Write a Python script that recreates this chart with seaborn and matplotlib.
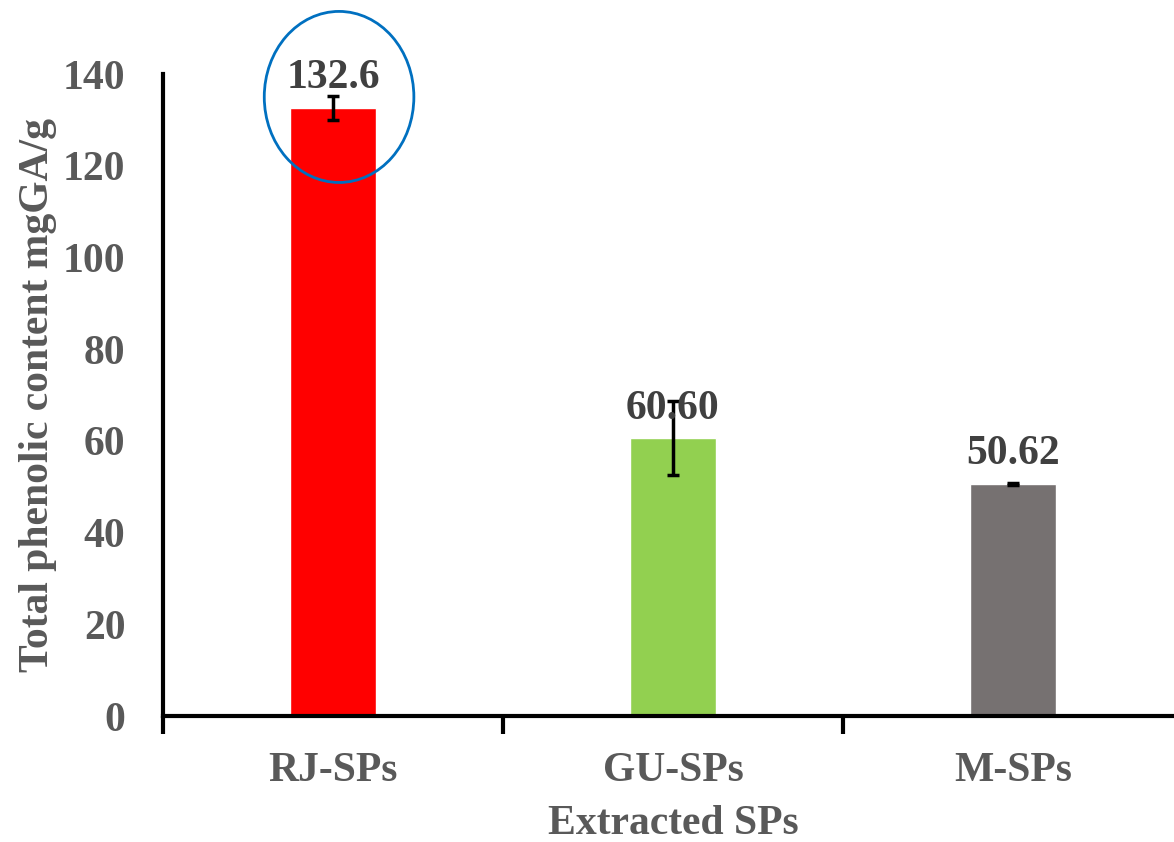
import pandas as pd
import seaborn as sns
from matplotlib import pyplot as plt
from matplotlib.patches import Ellipse

categories = ["RJ-SPs", "GU-SPs", "M-SPs"]
values = [132.6, 60.60, 50.62]
errors = [2.6, 8.0, 0.3]
labels = ["132.6", "60.60", "50.62"]
colors = ["#FF0000", "#92D050", "#767171"]


def main():
    sns.set_style("white")
    plt.rcParams["font.family"] = ["Liberation Serif", "DejaVu Serif"]
    plt.rcParams["font.weight"] = "bold"

    df = pd.DataFrame({"sample": categories, "tpc": values})

    fig = plt.figure(figsize=(11.74, 8.42), dpi=100)
    ax = fig.add_axes([0.1388, 0.1496, 0.8688, 0.7625])

    sns.barplot(data=df, x="sample", y="tpc", hue="sample", palette=colors,
                width=0.253, errorbar=None, legend=False, ax=ax, saturation=1)
    ax.errorbar(range(len(values)), values, yerr=errors, fmt="none",
                ecolor="black", elinewidth=2.5, capsize=4.5, capthick=2.5)

    # data labels sit just above the bar top, like Excel does
    for i, (v, lab) in enumerate(zip(values, labels)):
        ax.text(i, v + 2.3, lab, ha="center", va="bottom",
                fontsize=30, fontweight="bold", color="#404040")

    ax.set_ylim(0, 140)
    ax.set_xlim(-0.5, 2.5)
    ax.set_yticks(range(0, 141, 20))
    ax.tick_params(axis="y", length=0, labelsize=30, labelcolor="#595959", pad=27)
    ax.tick_params(axis="x", which="major", length=0, labelsize=30,
                   labelcolor="#595959", pad=26)
    ax.set_xticks([-0.5, 0.5, 1.5, 2.5], minor=True)
    ax.tick_params(axis="x", which="minor", bottom=True, length=13, width=3,
                   color="black", direction="out")
    for lab in ax.get_xticklabels() + ax.get_yticklabels():
        lab.set_fontweight("bold")

    ax.set_xlabel("Extracted SPs", fontsize=30, fontweight="bold", color="#595959",
                  labelpad=11)
    ax.set_ylabel("Total phenolic content mgGA/g", fontsize=30, fontweight="bold",
                  color="#595959", labelpad=4)

    sns.despine(ax=ax)
    for s in ["left", "bottom"]:
        ax.spines[s].set_linewidth(3)
        ax.spines[s].set_color("black")

    circ = Ellipse((0.018, 135), width=0.44, height=37.3, fill=False,
                   edgecolor="#0070C0", linewidth=2, clip_on=False)
    ax.add_patch(circ)

    fig.savefig("out.png", dpi=100)


if __name__ == "__main__":
    main()
